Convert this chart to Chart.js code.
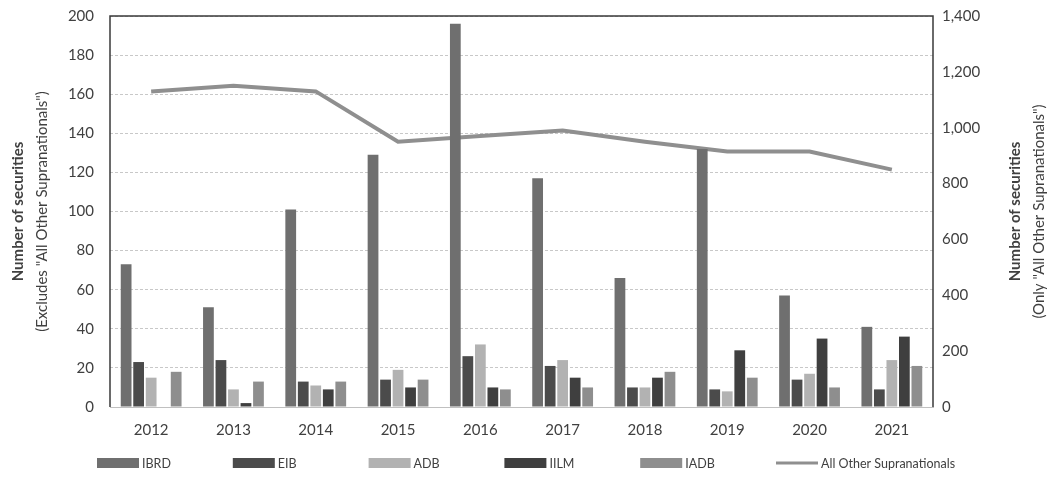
<!DOCTYPE html>
<html>
<head>
<meta charset="utf-8">
<script src="https://cdn.jsdelivr.net/npm/chart.js@4"></script>
<style>
  body { margin: 0; background: #fff; }
  .wrap { width: 1054px; height: 479px; }
</style>
</head>
<body>
<div class="wrap"><canvas id="chart"></canvas></div>
<script>
// data
const years = ['2012', '2013', '2014', '2015', '2016', '2017', '2018', '2019', '2020', '2021']
const ibrd = [73, 51, 101, 129, 196, 117, 66, 132, 57, 41]
const eib = [23, 24, 13, 14, 26, 21, 10, 9, 14, 9]
const adb = [15, 9, 11, 19, 32, 24, 10, 8, 17, 24]
const iilm = [0, 2, 9, 10, 10, 15, 15, 29, 35, 36]
const iadb = [18, 13, 13, 14, 9, 10, 18, 15, 10, 21]
const otherSupra = [1130, 1150, 1130, 950, 970, 990, 950, 915, 915, 850]

const leftTicks = { min: 0, max: 200, step: 20 }
const rightTicks = { min: 0, max: 1400, step: 200 }

const font = 'Lato, "Open Sans", sans-serif'
const textColor = '#404040'
const clear = 'rgba(0,0,0,0)'

const bar = (label, data, color) => ({
  type: 'bar',
  label: label,
  data: data,
  backgroundColor: color,
  borderWidth: 0,
  yAxisID: 'y',
  categoryPercentage: 0.76,
  barPercentage: 0.86,
})

// frame, two-line axis titles, evenly spaced legend (like Excel)
const frame = {
  id: 'frame',
  afterDatasetsDraw(chart) {
    const { ctx, chartArea: a } = chart
    ctx.save()
    ctx.strokeStyle = '#3a3a3a'
    ctx.lineWidth = 1.5
    ctx.beginPath()
    ctx.moveTo(a.left, a.bottom)
    ctx.lineTo(a.left, a.top)
    ctx.lineTo(a.right, a.top)
    ctx.lineTo(a.right, a.bottom)
    ctx.stroke()
    ctx.restore()
  },
  afterDraw(chart) {
    const { ctx, chartArea: a } = chart
    const mid = (a.top + a.bottom) / 2
    const title = (x, l1, l2) => {
      ctx.save()
      ctx.translate(x, mid)
      ctx.rotate(-Math.PI / 2)
      ctx.fillStyle = textColor
      ctx.textAlign = 'center'
      ctx.textBaseline = 'middle'
      ctx.font = 'bold 15px ' + font
      ctx.fillText(l1, 0, 0)
      ctx.font = '15px ' + font
      ctx.fillText(l2, 0, 24)
      ctx.restore()
    }
    title(18, 'Number of securities', '(Excludes "All Other Supranationals")')
    title(1015, 'Number of securities', '(Only "All Other Supranationals")')

    // legend
    const y = 463
    const step = 135.8
    ctx.save()
    ctx.font = '12.5px ' + font
    ctx.textBaseline = 'middle'
    chart.data.datasets.forEach((ds, i) => {
      const x = 97 + i * step
      if (ds.type === 'line') {
        ctx.strokeStyle = ds.borderColor
        ctx.lineWidth = 3
        ctx.beginPath()
        ctx.moveTo(x, y)
        ctx.lineTo(x + 42, y)
        ctx.stroke()
      } else {
        ctx.fillStyle = ds.backgroundColor
        ctx.fillRect(x, y - 5, 42, 10)
      }
      ctx.fillStyle = textColor
      ctx.fillText(ds.label, x + 45, y + 1)
    })
    ctx.restore()
  }
}

const chart = new Chart(document.getElementById('chart'), {
  data: {
    labels: years,
    datasets: [
      bar('IBRD', ibrd, '#6f6f6f'),
      bar('EIB', eib, '#4b4b4b'),
      bar('ADB', adb, '#b2b2b2'),
      bar('IILM', iilm, '#3f3f3f'),
      bar('IADB', iadb, '#8e8e8e'),
      {
        type: 'line',
        label: 'All Other Supranationals',
        data: otherSupra,
        borderColor: '#8f8f8f',
        backgroundColor: '#8f8f8f',
        borderWidth: 4,
        pointRadius: 0,
        tension: 0,
        yAxisID: 'y2',
      },
    ],
  },
  options: {
    responsive: true,
    maintainAspectRatio: false,
    animation: false,
    layout: { padding: { top: 16, left: 0, right: 0, bottom: 34 } },
    plugins: {
      tooltip: { enabled: false },
      legend: { display: false },
    },
    scales: {
      x: {
        grid: { display: false },
        border: { color: '#c0c0c0' },
        ticks: { color: textColor, font: { family: font, size: 15 }, padding: 6 },
      },
      y: {
        position: 'left',
        min: leftTicks.min,
        max: leftTicks.max,
        ticks: { stepSize: leftTicks.step, color: textColor, font: { family: font, size: 15 }, padding: 0 },
        grid: { color: '#c8c8c8', drawTicks: true, tickLength: 16, tickColor: clear },
        border: { display: false, dash: [3, 2] },
        afterFit(scale) { scale.width = 110 },
      },
      y2: {
        position: 'right',
        min: rightTicks.min,
        max: rightTicks.max,
        ticks: {
          stepSize: rightTicks.step, color: textColor, font: { family: font, size: 15 }, padding: 0,
          callback: (v) => v.toLocaleString('en-US'),
        },
        grid: { drawOnChartArea: false, drawTicks: true, tickLength: 9, tickColor: clear },
        border: { display: false },
        afterFit(scale) { scale.width = 121 },
      },
    },
  },
  plugins: [frame],
})
</script>
</body>
</html>
